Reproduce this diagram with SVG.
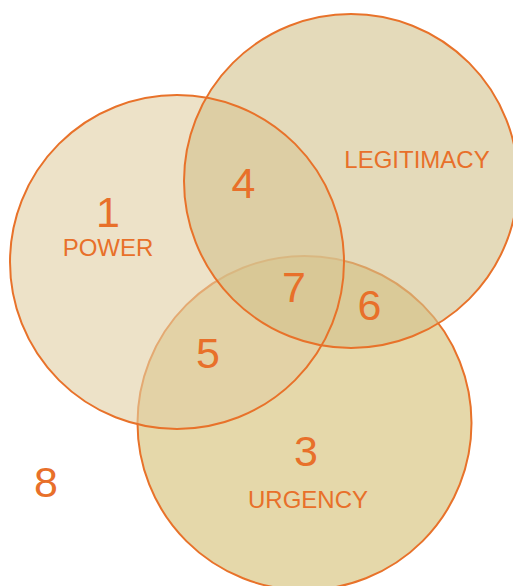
<svg xmlns="http://www.w3.org/2000/svg" width="513" height="586" viewBox="0 0 513 586">
  <style>
    .ring { fill: none; stroke: #E8722A; stroke-width: 2; }
    .num { font-family: "Liberation Sans", Arial, sans-serif; font-size: 43px; fill: #E8702A; text-anchor: middle; }
    .lbl { font-family: "Liberation Sans", Arial, sans-serif; font-size: 24px; fill: #E8702A; text-anchor: middle; }
  </style>
  <rect width="513" height="586" fill="#FFFFFF"/>

  <!-- Urgency: drawn first so the other discs tint its outline -->
  <g id="urgency">
    <circle cx="304.5" cy="423" r="167" fill="#E5D8AA"/>
    <circle class="ring" cx="304.5" cy="423" r="167"/>
  </g>

  <!-- Translucent fills of Power and Legitimacy -->
  <g id="power">
    <circle cx="177" cy="262" r="167" fill="#E1CFA3" fill-opacity="0.6"/>
  </g>
  <g id="legitimacy">
    <circle cx="351" cy="181" r="167" fill="#D2C18C" fill-opacity="0.6"/>
  </g>

  <!-- Outlines of Power and Legitimacy on top -->
  <g id="outlines">
    <circle class="ring" cx="177" cy="262" r="167"/>
    <circle class="ring" cx="351" cy="181" r="167"/>
  </g>

  <!-- Region numbers and set labels -->
  <g id="labels">
    <text class="num" x="108" y="227">1</text>
    <text class="lbl" x="108" y="256">POWER</text>
    <text class="num" x="243.5" y="198">4</text>
    <text class="lbl" x="417" y="168">LEGITIMACY</text>
    <text class="num" x="294" y="302">7</text>
    <text class="num" x="369.5" y="320">6</text>
    <text class="num" x="208" y="368">5</text>
    <text class="num" x="306" y="466">3</text>
    <text class="lbl" x="308" y="508">URGENCY</text>
    <text class="num" x="46" y="497">8</text>
  </g>
</svg>
